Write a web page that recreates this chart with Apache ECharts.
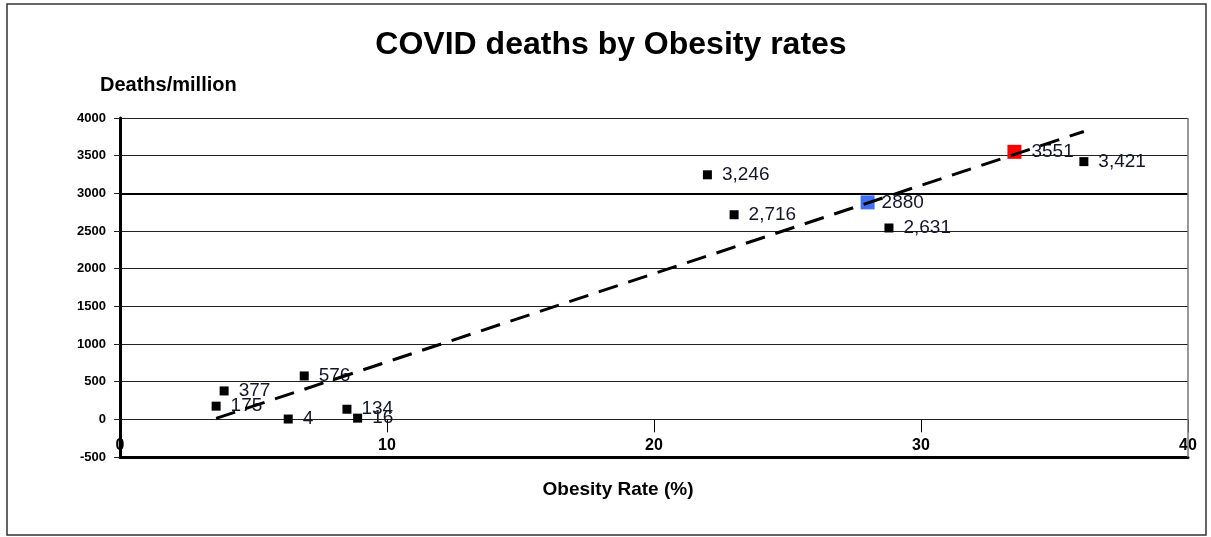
<!DOCTYPE html>
<html>
<head>
<meta charset="utf-8">
<script src="https://cdn.jsdelivr.net/npm/echarts@6/dist/echarts.min.js"></script>
<style>
html,body{margin:0;padding:0;background:#fff;}
#chart{width:1211px;height:537px;}
</style>
</head>
<body>
<div id="chart"></div>
<script>
// Black points
const obesityRate = [3.6, 3.9, 6.9, 6.3, 8.5, 8.9, 22.0, 23.0, 28.8, 36.1];
const deathsPerMillion = [175, 377, 576, 4, 134, 16, 3246, 2716, 2540, 3421];
const pointLabels = ['175', '377', '576', '4', '134', '16', '3,246', '2,716', '2,631', '3,421'];
// Highlighted points
const redPoint = [33.5, 3551];
const redLabel = '3551';
const bluePoint = [28.0, 2880];
const blueLabel = '2880';
// Axes
const yTicks = [-500, 0, 500, 1000, 1500, 2000, 2500, 3000, 3500, 4000];
const xTicks = [0, 10, 20, 30, 40];

// Linear trend fitted from all points
const allX = obesityRate.concat([redPoint[0], bluePoint[0]]);
const allY = deathsPerMillion.concat([redPoint[1], bluePoint[1]]);
const n = allX.length;
const mx = allX.reduce((a, b) => a + b, 0) / n;
const my = allY.reduce((a, b) => a + b, 0) / n;
let sxy = 0, sxx = 0;
for (let i = 0; i < n; i++) { sxy += (allX[i] - mx) * (allY[i] - my); sxx += (allX[i] - mx) ** 2; }
const slope = sxy / sxx, intercept = my - slope * mx;
const xMin = Math.min(...allX), xMax = Math.max(...allX);
const trend = [[xMin, intercept + slope * xMin], [xMax, intercept + slope * xMax]];

const blackData = obesityRate.map((x, i) => ({ value: [x, deathsPerMillion[i]], label: { formatter: pointLabels[i] } }));

const FONT = 'Liberation Sans, Arial';
const labelStyle = { show: true, position: 'right', distance: 10, fontFamily: FONT, fontSize: 19, color: '#15152a' };

const chart = echarts.init(document.getElementById('chart'));
chart.setOption({
  animation: false,
  backgroundColor: '#fff',
  graphic: [
    { type: 'rect', shape: { x: 7, y: 4, width: 1199, height: 531 }, style: { fill: 'none', stroke: '#333', lineWidth: 1.5 }, z: -1 },
    { type: 'text', x: 611, y: 45, style: { text: 'COVID deaths by Obesity rates', fontFamily: FONT, fontSize: 32, fontWeight: 'bold', fill: '#000', textAlign: 'center', textVerticalAlign: 'middle' } },
    { type: 'text', x: 100, y: 85, style: { text: 'Deaths/million', fontFamily: FONT, fontSize: 20, fontWeight: 'bold', fill: '#000', textAlign: 'left', textVerticalAlign: 'middle' } },
    { type: 'text', x: 618, y: 490, style: { text: 'Obesity Rate (%)', fontFamily: FONT, fontSize: 19, fontWeight: 'bold', fill: '#000', textAlign: 'center', textVerticalAlign: 'middle' } }
  ],
  grid: { left: 120, right: 23, top: 118, bottom: 80, containLabel: false },
  xAxis: [
    {
      type: 'value', min: 0, max: 40, interval: 10,
      axisLine: { show: true, onZero: false, lineStyle: { color: '#000', width: 3 } },
      axisTick: { show: false },
      axisLabel: { inside: true, margin: 3, fontFamily: FONT, fontSize: 16, fontWeight: 'bold', color: '#000', verticalAlign: 'bottom',
        formatter: v => xTicks.includes(v) ? String(v) : '' },
      splitLine: { show: false }
    },
    {
      type: 'value', min: 0, max: 40, interval: 10, position: 'bottom',
      axisLine: { show: false, onZero: true },
      axisTick: { show: true, length: 13, lineStyle: { color: '#000', width: 1 } },
      axisLabel: { show: false },
      splitLine: { show: false }
    }
  ],
  yAxis: {
    type: 'value', min: -500, max: 4000, interval: 500,
    axisLine: { show: true, onZero: false, lineStyle: { color: '#000', width: 3 } },
    axisTick: { show: true, length: 6, lineStyle: { color: '#222', width: 1 } },
    axisLabel: { margin: 14, fontFamily: FONT, fontSize: 13, fontWeight: 'bold', color: '#000',
      formatter: v => yTicks.includes(v) ? String(v) : '' },
    splitLine: { show: true, lineStyle: { color: '#222', width: 1 } }
  },
  series: [
    {
      type: 'line', data: [], xAxisIndex: 0,
      markLine: { silent: true, symbol: 'none', label: { show: false },
        lineStyle: { color: '#000', width: 2, type: 'solid' },
        data: [{ yAxis: 3000 }] }
    },
    {
      type: 'line', data: [], xAxisIndex: 0,
      markLine: { silent: true, symbol: 'none', label: { show: false },
        lineStyle: { color: '#777', width: 1.5, type: 'solid' },
        data: [{ xAxis: 40 }] }
    },
    {
      type: 'line', xAxisIndex: 0, data: trend, symbol: 'none', z: 5,
      lineStyle: { color: '#000', width: 3, type: [20, 11] }
    },
    {
      type: 'scatter', xAxisIndex: 0, symbol: 'rect', symbolSize: 9, data: blackData,
      itemStyle: { color: '#000', opacity: 1 }, label: labelStyle, z: 3
    },
    {
      type: 'scatter', xAxisIndex: 0, symbol: 'rect', symbolSize: 14, data: [redPoint],
      itemStyle: { color: '#ff0000', opacity: 1 }, label: Object.assign({}, labelStyle, { formatter: redLabel, distance: 10 }), z: 3
    },
    {
      type: 'scatter', xAxisIndex: 0, symbol: 'rect', symbolSize: 14, data: [bluePoint],
      itemStyle: { color: '#3d6ff0', opacity: 1 }, label: Object.assign({}, labelStyle, { formatter: blueLabel, distance: 7 }), z: 3
    }
  ]
});
</script>
</body>
</html>
